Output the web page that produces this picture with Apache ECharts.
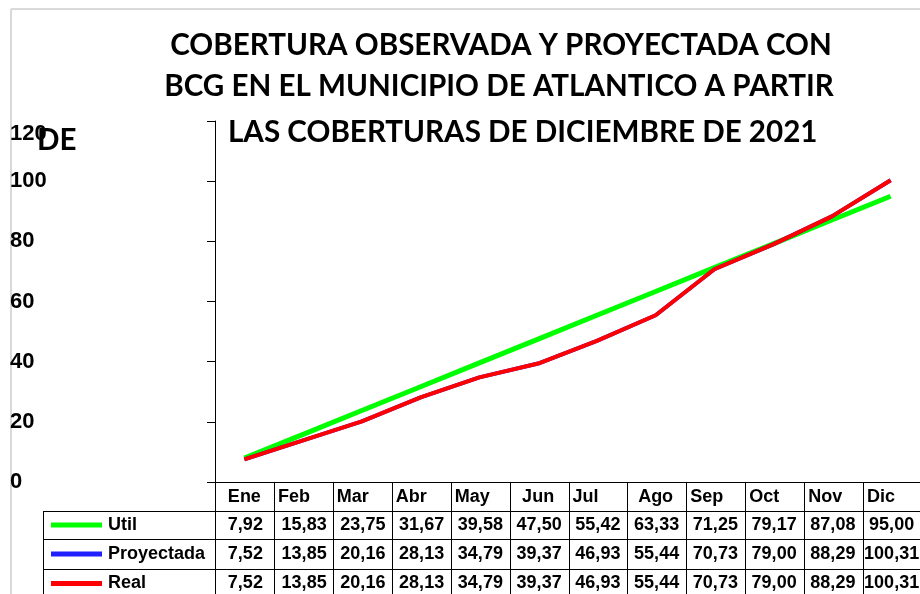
<!DOCTYPE html>
<html>
<head>
<meta charset="utf-8">
<script src="https://cdn.jsdelivr.net/npm/echarts@6/dist/echarts.min.js"></script>
<style>html,body{margin:0;padding:0;background:#fff;}#c{width:920px;height:594px;}</style>
</head>
<body>
<div id="c"></div>
<script>
const categories = ['Ene','Feb','Mar','Abr','May','Jun','Jul','Ago','Sep','Oct','Nov','Dic'];
const util = [7.92,15.83,23.75,31.67,39.58,47.50,55.42,63.33,71.25,79.17,87.08,95.00];
const proyectada = [7.52,13.85,20.16,28.13,34.79,39.37,46.93,55.44,70.73,79.00,88.29,100.31];
const real = [7.52,13.85,20.16,28.13,34.79,39.37,46.93,55.44,70.73,79.00,88.29,100.31];
const seriesNames = ['Util','Proyectada','Real'];
const yTicks = [0,20,40,60,80,100,120];
const titleLines = ['COBERTURA OBSERVADA Y PROYECTADA CON','BCG EN EL MUNICIPIO DE ATLANTICO A PARTIR','LAS COBERTURAS DE DICIEMBRE DE 2021','DE'];

const colors = ['#00ff00','#1f1fff','#ff0000'];
const seriesData = [util, proyectada, real];
const FONT = '"Liberation Sans", Arial, sans-serif';
const TFONT = 'Lato, "Open Sans", sans-serif';

const chart = echarts.init(document.getElementById('c'), null, {renderer:'canvas'});

const GL = 215, GT = 121, GW = 707, GB = 482;
function fmt(v){ return v.toFixed(2).replace('.', ','); }

const option = {
  animation: false,
  backgroundColor: '#fff',
  grid: {left: GL, top: GT, width: GW, height: GB - GT, containLabel: false},
  xAxis: {
    type: 'category', data: categories, boundaryGap: true,
    axisLine: {show: false}, axisTick: {show: false}, axisLabel: {show: false}
  },
  yAxis: {
    type: 'value', min: 0, max: 120, interval: 20,
    axisLine: {show: true, lineStyle: {color: '#000', width: 1}},
    axisTick: {show: true, length: 8, lineStyle: {color: '#000'}},
    splitLine: {show: false},
    axisLabel: {
      align: 'left', margin: 205, color: '#000', fontFamily: FONT, fontWeight: 'bold', fontSize: 22,
      formatter: function(v){ return v === yTicks[yTicks.length-1] ? '{s|' + v + '}' : '{n|' + v + '}'; },
      rich: {
        n: {fontFamily: FONT, fontWeight: 'bold', fontSize: 22, color: '#000'},
        s: {fontFamily: FONT, fontWeight: 'bold', fontSize: 22, color: '#000', padding: [26,0,0,0]}
      }
    }
  },
  series: seriesData.map((d, i) => ({
    name: seriesNames[i], type: 'line', data: d, symbol: 'none', smooth: false,
    lineStyle: {color: colors[i], width: i === 0 ? 5 : 4}, z: 2 + i
  }))
};
chart.setOption(option);

function buildGraphic(){
  const g = [];
  // outer grey frame
  g.push({type:'line', shape:{x1:11, y1:9, x2:920, y2:9}, style:{stroke:'#d9d9d9', lineWidth:2}, silent:true});
  g.push({type:'line', shape:{x1:11, y1:9, x2:11, y2:594}, style:{stroke:'#d9d9d9', lineWidth:2}, silent:true});
  // titles
  const tl = [
    {x: 501, y: 45, align:'center'},
    {x: 499, y: 86, align:'center'},
    {x: 228, y: 132, align:'left'},
    {x: 37, y: 140, align:'left'}
  ];
  titleLines.forEach((t, i) => {
    g.push({type:'text', x: tl[i].x, y: tl[i].y, z: 10,
      style:{text: t, fill:'#000', font: 'bold 29.6px ' + TFONT, textAlign: tl[i].align, textVerticalAlign:'middle'}});
  });
  // table
  const rows = [482, 511, 539, 569, 598];
  const colEdges = [];
  const n = categories.length;
  const cw = GW / n;
  for (let i = 0; i <= n; i++) colEdges.push(GL + cw * i);
  const tableRight = colEdges[n];
  const ls = {stroke:'#000', lineWidth:1};
  g.push({type:'line', shape:{x1:GL, y1:rows[0]+0.5, x2:tableRight, y2:rows[0]+0.5}, style:ls});
  for (let r = 1; r < rows.length; r++) {
    g.push({type:'line', shape:{x1:43, y1:rows[r]+0.5, x2:tableRight, y2:rows[r]+0.5}, style:ls});
  }
  for (let i = 0; i <= n; i++) {
    const x = Math.round(colEdges[i]) + 0.5;
    g.push({type:'line', shape:{x1:x, y1:rows[0], x2:x, y2:594}, style:ls});
  }
  g.push({type:'line', shape:{x1:43.5, y1:rows[1], x2:43.5, y2:594}, style:ls});
  // header
  const centered = [0,5,7];
  categories.forEach((c, i) => {
    const cx = chart.convertToPixel({xAxisIndex:0}, i);
    const isC = centered.indexOf(i) >= 0;
    g.push({type:'text', x: isC ? cx : colEdges[i] + 4, y: (rows[0]+rows[1])/2 + 1,
      style:{text:c, fill:'#000', font:'bold 18px ' + FONT, textAlign: isC ? 'center':'left', textVerticalAlign:'middle'}});
  });
  // rows
  seriesData.forEach((d, r) => {
    const yc = (rows[r+1] + rows[r+2]) / 2;
    g.push({type:'line', shape:{x1:51, y1:yc, x2:102, y2:yc}, style:{stroke: colors[r], lineWidth:5}});
    g.push({type:'text', x:108, y:yc, style:{text: seriesNames[r], fill:'#000', font:'bold 18px ' + FONT, textAlign:'left', textVerticalAlign:'middle'}});
    d.forEach((v, i) => {
      const cx = chart.convertToPixel({xAxisIndex:0}, i);
      g.push({type:'text', x: cx + 1, y: yc, style:{text: fmt(v), fill:'#000', font:'bold 18px ' + FONT, textAlign:'center', textVerticalAlign:'middle'}});
    });
  });
  return g;
}
chart.setOption({graphic: buildGraphic()});
</script>
</body>
</html>
